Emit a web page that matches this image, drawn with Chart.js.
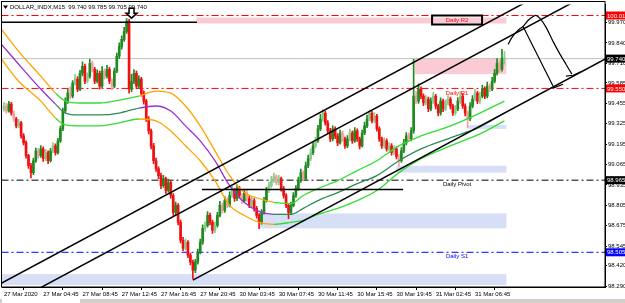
<!DOCTYPE html>
<html>
<head>
<meta charset="utf-8">
<script src="https://cdn.jsdelivr.net/npm/chart.js@4.4.1/dist/chart.umd.min.js"></script>
<style>
html, body { margin: 0; padding: 0; background: #fff; }
canvas { display: block; }
</style>
</head>
<body>
<canvas id="myChart" width="625" height="303"></canvas>
<script>
'use strict';

// ---- data ----
const symbolName = 'DOLLAR_INDX,M15';
const timeLabels = ['27 Mar 2020', '27 Mar 04:45', '27 Mar 08:45', '27 Mar 12:45', '27 Mar 16:45', '27 Mar 20:45',
  '30 Mar 03:45', '30 Mar 07:45', '30 Mar 11:45', '30 Mar 15:45', '30 Mar 19:45', '31 Mar 02:45', '31 Mar 06:45'];
const barsPerLabel = 16;
const priceTicks = [98.290, 98.420, 98.545, 98.675, 98.805, 98.935, 99.065, 99.195, 99.325, 99.455, 99.585, 99.710, 99.840, 99.970];

const opens = [99.420,99.438,99.406,99.450,99.393,99.355,99.311,99.330,99.247,99.203,
  99.121,99.057,99.013,99.089,99.152,99.121,99.165,99.102,99.140,99.089,
  99.152,99.184,99.140,99.216,99.292,99.406,99.469,99.520,99.501,99.584,
  99.609,99.546,99.647,99.691,99.596,99.628,99.710,99.672,99.596,99.647,
  99.565,99.660,99.628,99.672,99.596,99.565,99.660,99.755,99.818,99.863,
  99.913,99.977,99.546,99.596,99.647,99.565,99.609,99.520,99.469,99.355,
  99.279,99.184,99.089,99.038,98.994,98.930,98.975,98.899,98.949,98.867,
  98.759,98.804,98.696,98.582,98.531,98.569,98.487,98.442,98.391,98.442,
  98.506,98.569,98.658,98.677,98.740,98.696,98.645,98.677,98.740,98.804,
  98.772,98.835,98.804,98.867,98.899,98.848,98.911,98.867,98.835,98.886,
  98.848,98.804,98.835,98.785,98.740,98.696,98.759,98.835,98.899,98.930,
  98.962,98.988,98.949,98.975,98.911,98.867,98.804,98.759,98.804,98.867,
  98.911,98.962,99.013,98.975,99.057,99.102,99.140,99.184,99.216,99.292,
  99.355,99.393,99.330,99.279,99.228,99.292,99.247,99.203,99.266,99.228,
  99.184,99.228,99.266,99.216,99.279,99.228,99.184,99.266,99.311,99.355,
  99.393,99.343,99.374,99.292,99.228,99.184,99.216,99.165,99.184,99.140,
  99.165,99.114,99.089,99.152,99.203,99.247,99.228,99.279,99.501,99.469,
  99.546,99.501,99.457,99.482,99.419,99.469,99.501,99.438,99.393,99.469,
  99.419,99.457,99.482,99.438,99.393,99.419,99.469,99.501,99.438,99.393,
  99.355,99.438,99.482,99.520,99.469,99.501,99.546,99.501,99.565,99.546,
  99.596,99.647,99.710,99.672,99.740];
const highs = [99.460,99.455,99.468,99.462,99.405,99.366,99.352,99.340,99.262,99.215,
  99.130,99.072,99.105,99.170,99.168,99.185,99.178,99.160,99.152,99.168,
  99.205,99.196,99.232,99.310,99.425,99.490,99.545,99.560,99.600,99.640,
  99.625,99.665,99.720,99.705,99.650,99.735,99.722,99.685,99.668,99.660,
  99.690,99.675,99.698,99.685,99.612,99.680,99.775,99.840,99.885,99.940,
  99.996,99.990,99.640,99.670,99.660,99.630,99.620,99.535,99.480,99.370,
  99.290,99.200,99.105,99.050,99.010,98.995,98.985,98.972,98.960,98.880,
  98.825,98.815,98.710,98.600,98.590,98.580,98.500,98.455,98.460,98.525,
  98.590,98.680,98.700,98.765,98.755,98.710,98.700,98.760,98.830,98.820,
  98.860,98.850,98.890,98.925,98.915,98.935,98.925,98.880,98.905,98.900,
  98.862,98.855,98.848,98.798,98.752,98.778,98.855,98.920,98.955,98.990,
  99.010,99.000,98.995,98.985,98.925,98.880,98.815,98.825,98.885,98.930,
  98.985,99.035,99.025,99.080,99.125,99.165,99.205,99.240,99.315,99.385,
  99.415,99.405,99.345,99.295,99.312,99.305,99.262,99.285,99.280,99.240,
  99.250,99.290,99.278,99.300,99.292,99.240,99.285,99.335,99.380,99.412,
  99.405,99.395,99.385,99.305,99.240,99.235,99.228,99.205,99.198,99.185,
  99.178,99.130,99.172,99.225,99.268,99.265,99.300,99.735,99.530,99.580,
  99.560,99.515,99.505,99.495,99.490,99.525,99.512,99.450,99.490,99.482,
  99.478,99.505,99.495,99.450,99.440,99.492,99.530,99.515,99.452,99.405,
  99.460,99.505,99.545,99.532,99.525,99.570,99.560,99.590,99.580,99.620,
  99.672,99.740,99.725,99.800,99.785];
const lows = [99.405,99.392,99.398,99.380,99.340,99.298,99.300,99.232,99.190,99.105,
  99.040,98.980,99.000,99.078,99.105,99.110,99.085,99.090,99.070,99.080,
  99.140,99.125,99.130,99.205,99.280,99.395,99.455,99.485,99.490,99.570,
  99.530,99.535,99.630,99.580,99.585,99.615,99.655,99.580,99.585,99.545,
  99.555,99.610,99.615,99.580,99.540,99.555,99.650,99.740,99.800,99.850,
  99.900,99.520,99.530,99.580,99.548,99.550,99.500,99.450,99.340,99.260,
  99.165,99.070,99.020,98.975,98.910,98.918,98.880,98.888,98.850,98.740,
  98.745,98.680,98.565,98.515,98.520,98.470,98.425,98.335,98.375,98.430,
  98.495,98.555,98.640,98.665,98.680,98.625,98.630,98.665,98.730,98.755,
  98.760,98.790,98.795,98.855,98.830,98.835,98.850,98.815,98.825,98.830,
  98.790,98.792,98.768,98.722,98.655,98.685,98.748,98.825,98.885,98.918,
  98.950,98.935,98.935,98.895,98.850,98.790,98.720,98.745,98.795,98.855,
  98.900,98.950,98.960,98.965,99.045,99.090,99.128,99.170,99.205,99.280,
  99.340,99.315,99.262,99.210,99.215,99.230,99.185,99.195,99.212,99.168,
  99.172,99.215,99.200,99.205,99.212,99.165,99.175,99.255,99.300,99.345,
  99.330,99.330,99.278,99.212,99.168,99.170,99.150,99.152,99.125,99.128,
  99.100,99.055,99.078,99.140,99.190,99.212,99.215,99.265,99.452,99.455,
  99.485,99.440,99.445,99.402,99.408,99.455,99.420,99.375,99.380,99.402,
  99.408,99.445,99.420,99.378,99.380,99.408,99.455,99.422,99.375,99.300,
  99.345,99.425,99.470,99.452,99.455,99.490,99.485,99.490,99.530,99.535,
  99.585,99.635,99.655,99.660,99.705];
const closes = [99.438,99.406,99.450,99.393,99.355,99.311,99.330,99.247,99.203,99.121,
  99.057,99.013,99.089,99.152,99.121,99.165,99.102,99.140,99.089,99.152,
  99.184,99.140,99.216,99.292,99.406,99.469,99.520,99.501,99.584,99.609,
  99.546,99.647,99.691,99.596,99.628,99.710,99.672,99.596,99.647,99.565,
  99.660,99.628,99.672,99.596,99.565,99.660,99.755,99.818,99.863,99.913,
  99.977,99.546,99.596,99.647,99.565,99.609,99.520,99.469,99.355,99.279,
  99.184,99.089,99.038,98.994,98.930,98.975,98.899,98.949,98.867,98.759,
  98.804,98.696,98.582,98.531,98.569,98.487,98.442,98.391,98.442,98.506,
  98.569,98.658,98.677,98.740,98.696,98.645,98.677,98.740,98.804,98.772,
  98.835,98.804,98.867,98.899,98.848,98.911,98.867,98.835,98.886,98.848,
  98.804,98.835,98.785,98.740,98.696,98.759,98.835,98.899,98.930,98.962,
  98.988,98.949,98.975,98.911,98.867,98.804,98.759,98.804,98.867,98.911,
  98.962,99.013,98.975,99.057,99.102,99.140,99.184,99.216,99.292,99.355,
  99.393,99.330,99.279,99.228,99.292,99.247,99.203,99.266,99.228,99.184,
  99.228,99.266,99.216,99.279,99.228,99.184,99.266,99.311,99.355,99.393,
  99.343,99.374,99.292,99.228,99.184,99.216,99.165,99.184,99.140,99.165,
  99.114,99.089,99.152,99.203,99.247,99.228,99.279,99.501,99.469,99.546,
  99.501,99.457,99.482,99.419,99.469,99.501,99.438,99.393,99.469,99.419,
  99.457,99.482,99.438,99.393,99.419,99.469,99.501,99.438,99.393,99.355,
  99.438,99.482,99.520,99.469,99.501,99.546,99.501,99.565,99.546,99.596,
  99.647,99.710,99.672,99.740,99.740];

// moving-average band (upper / middle / lower), read at a few bars
const bandBars   = [-1, 6, 15, 21, 25, 31, 39, 47, 55, 62, 68, 74, 80, 86, 92, 98, 104, 110, 117, 122, 128, 136, 144, 152, 161, 170, 182, 194, 204];
const bandUpper  = [99.926,99.786,99.628,99.520,99.469,99.457,99.457,99.476,99.501,99.533,99.520,99.438,99.311,99.152,98.994,98.886,98.848,98.823,98.816,98.867,98.911,98.962,99.026,99.089,99.184,99.247,99.311,99.393,99.469];
const bandMiddle = [99.831,99.704,99.546,99.450,99.393,99.381,99.381,99.393,99.425,99.438,99.406,99.311,99.216,99.089,98.930,98.823,98.766,98.747,98.747,98.785,98.835,98.886,98.943,98.994,99.089,99.165,99.235,99.305,99.393];
const bandLower  = [99.736,99.596,99.469,99.362,99.317,99.311,99.311,99.330,99.355,99.343,99.279,99.184,99.089,98.962,98.804,98.740,98.696,98.683,98.696,98.709,98.747,98.785,98.835,98.899,99.013,99.102,99.184,99.260,99.343];
const bandTrend  = ['dn','dn','dn','dn','up','up','up','up','up','dn','dn','dn','dn','dn','dn','dn','dn','dn','up','up','up','up','up','up','up','up','up','up','up'];

// daily pivot levels
const pivotNames  = ['Daily R2', 'Daily R1', 'Daily Pivot', 'Daily S1'];
const pivotValues = [100.015, 99.550, 98.965, 98.505];
const pivotTextBar = 184.7;

// trend lines: [bar, price] -> [bar, price]
const trendFrom = [[-1, 98.308], [-1, 98.146], [77, 98.328], [-1, 99.972], [80.7, 98.905]];
const trendTo   = [[247, 100.387], [247, 100.225], [247, 99.753], [78.7, 99.972], [162.7, 98.905]];

// supply / demand zones
const zoneFrom = [78.5, 167.5, 189, 160, 104, -1];
const zoneTo   = [204.8, 204.8, 204.8, 204.8, 204.8, 204.8];
const zoneHigh = [100.002, 99.742, 99.317, 99.057, 98.753, 98.366];
const zoneLow  = [99.964, 99.641, 99.292, 99.013, 98.658, 98.296];
const zoneKind = ['supply', 'supply', 'demand', 'demand', 'demand', 'demand'];

// hand drawn projection
const sketchRight = [[205.5,99.831],[207.1,99.875],[208.7,99.907],[210.4,99.932],[211.6,99.945],[213.6,99.983],[215.7,100.008],[216.9,100.015],[218.5,99.996],[221,99.939],[223.8,99.850],[226.7,99.767],[229.1,99.704],[231.5,99.641]];
const sketchRightHead = [[229.1,99.628],[232,99.634],[235.6,99.660]];
const sketchLeft = [[211.6,99.945],[223.8,99.565]];
const sketchLeftHead = [[223.8,99.552],[227.9,99.577]];

const peakArrow = [52, 99.998];

// ---- styles ----
const last = closes.length - 1;
const pivotColors = ['#ff0000', '#ff0000', '#000000', '#0000ff'];
const candleColors = closes.map((c, i) => {
  const up = c >= opens[i];
  const big = Math.abs(c - opens[i]) >= 0.04;
  return up ? (big ? '#1f8a1f' : '#8cc98c') : (big ? '#f01010' : '#f5a0a0');
});

Chart.defaults.font.family = '"Liberation Sans", Arial, sans-serif';
Chart.defaults.font.size = 6;
Chart.defaults.color = '#000';

function pts(list) {
  return list.map(p => ({ x: p[0], y: p[1] }));
}
function lineSet(data, color, width, dash, order, tension) {
  return {
    type: 'line', data: data, borderColor: color, borderWidth: width, borderDash: dash || [],
    pointRadius: 0, fill: false, tension: tension || 0, order: order
  };
}

let datasets = [];

pivotValues.forEach((v, k) => {
  datasets.push(lineSet([{ x: -1, y: v }, { x: 246, y: v }], pivotColors[k], 1, [7, 3, 2, 3], 7));
});
datasets.push(lineSet([{ x: -1, y: closes[last] }, { x: 246, y: closes[last] }], '#c0c0c0', 1, null, 6));

datasets.push({
  type: 'bar', data: highs.map((h, i) => ({ x: i, y: [lows[i], h] })),
  backgroundColor: candleColors, barThickness: 1, grouped: false, order: 5
});
datasets.push({
  type: 'bar', data: opens.map((o, i) => ({ x: i, y: [o, closes[i]] })),
  backgroundColor: candleColors, barThickness: 2, grouped: false, minBarLength: 1, order: 4
});

[[bandUpper, '#33dd33', '#ffa500'], [bandMiddle, '#2e8b57', '#9932cc'], [bandLower, '#33dd33', '#ffa500']].forEach(b => {
  const ds = lineSet(bandBars.map((bar, k) => ({ x: bar, y: b[0][k] })), b[1], 1.3, null, 3, 0.4);
  ds.cubicInterpolationMode = 'monotone';
  ds.segment = { borderColor: c => bandTrend[c.p1DataIndex] === 'up' ? b[1] : b[2] };
  datasets.push(ds);
});

trendFrom.forEach((f, k) => {
  datasets.push(lineSet(pts([f, trendTo[k]]), '#000', 1.5, null, 2));
});

datasets.push(lineSet(pts(sketchRight), '#000', 1.2, null, 1, 0.3));
datasets.push(lineSet(pts(sketchRightHead), '#000', 1.2, null, 1));
datasets.push(lineSet(pts(sketchLeft), '#000', 1.2, null, 1));
datasets.push(lineSet(pts(sketchLeftHead), '#000', 1.2, null, 1));

const overlay = {
  id: 'overlay',
  beforeDatasetsDraw(chart) {
    const { ctx, chartArea: a, scales: { x, y } } = chart;
    ctx.save();
    ctx.beginPath();
    ctx.rect(a.left, a.top, a.right - a.left, a.bottom - a.top);
    ctx.clip();
    zoneFrom.forEach((f, k) => {
      const x0 = x.getPixelForValue(f), x1 = x.getPixelForValue(zoneTo[k]);
      const y0 = y.getPixelForValue(zoneHigh[k]), y1 = y.getPixelForValue(zoneLow[k]);
      ctx.fillStyle = zoneKind[k] === 'supply' ? '#fbcbd5' : '#d7dff6';
      ctx.fillRect(x0, y0, x1 - x0, y1 - y0);
    });
    ctx.restore();
  },
  afterDatasetsDraw(chart) {
    const { ctx, chartArea: a, scales: { x, y } } = chart;
    ctx.save();
    ctx.font = '6px "Liberation Sans", Arial, sans-serif';

    // pivot names
    pivotNames.forEach((name, k) => {
      const px = x.getPixelForValue(pivotTextBar);
      const py = y.getPixelForValue(pivotValues[k]);
      ctx.fillStyle = pivotColors[k];
      ctx.textAlign = 'center';
      ctx.textBaseline = 'top';
      if (k === 0) {
        ctx.strokeStyle = '#000';
        ctx.lineWidth = 2;
        ctx.strokeRect(px - 25, py, 50, 9);
        ctx.fillText(name, px, py + 2);
      } else {
        ctx.fillText(name, px, py + 1.5);
      }
    });

    // header
    ctx.fillStyle = '#000';
    ctx.textAlign = 'left';
    ctx.textBaseline = 'middle';
    const hdr = symbolName + '  ' + [opens[last], highs[last], lows[last], closes[last]].map(v => v.toFixed(3)).join(' ');
    ctx.fillText(hdr, 10, 7.5);
    ctx.beginPath();
    ctx.moveTo(3, 5.5); ctx.lineTo(8, 5.5); ctx.lineTo(5.5, 9);
    ctx.closePath();
    ctx.fill();

    // arrow above the top
    const ax = x.getPixelForValue(peakArrow[0]), ay = y.getPixelForValue(peakArrow[1]);
    ctx.beginPath();
    ctx.moveTo(ax, ay);
    ctx.lineTo(ax - 5.5, ay - 5);
    ctx.lineTo(ax - 2.5, ay - 5);
    ctx.lineTo(ax - 2.5, ay - 10);
    ctx.lineTo(ax + 2.5, ay - 10);
    ctx.lineTo(ax + 2.5, ay - 5);
    ctx.lineTo(ax + 5.5, ay - 5);
    ctx.closePath();
    ctx.fillStyle = '#fff';
    ctx.fill();
    ctx.strokeStyle = '#000';
    ctx.lineWidth = 1.5;
    ctx.stroke();
    ctx.restore();
  },
  afterDraw(chart) {
    const { ctx, chartArea: a, scales: { y } } = chart;
    ctx.save();
    ctx.font = '6px "Liberation Sans", Arial, sans-serif';
    ctx.textAlign = 'left';
    ctx.textBaseline = 'middle';
    const boxes = pivotValues.map((v, k) => [v, pivotColors[k]]);
    boxes.push([closes[last], '#000']);
    boxes.forEach(b => {
      const py = y.getPixelForValue(b[0]);
      ctx.fillStyle = b[1];
      ctx.fillRect(a.right + 1, py - 4, 20, 8);
      ctx.fillStyle = '#fff';
      ctx.fillText(b[0].toFixed(3), a.right + 2, py + 0.5);
    });
    // frame
    ctx.strokeStyle = '#000';
    ctx.lineWidth = 1;
    ctx.strokeRect(1.5, 1.5, a.right - 1.5, a.bottom - 1.5);
    // tab strip
    ctx.fillStyle = '#d4d0c8';
    ctx.fillRect(0, 299, 625, 4);
    ctx.fillStyle = '#fff';
    ctx.fillRect(2, 299, 78, 4);
    ctx.restore();
  }
};

new Chart(document.getElementById('myChart'), {
  type: 'bar',
  data: { datasets: datasets },
  plugins: [overlay],
  options: {
    responsive: false,
    animation: false,
    devicePixelRatio: 1,
    layout: { padding: { left: 2, top: 3, right: 0, bottom: 4 } },
    plugins: { legend: { display: false }, tooltip: { enabled: false } },
    scales: {
      x: {
        type: 'linear', min: -0.8, max: 245, offset: false,
        afterBuildTicks: s => { s.ticks = timeLabels.map((t, k) => ({ value: k * barsPerLabel })); },
        afterFit: s => { s.height = 12; },
        ticks: { autoSkip: false, maxRotation: 0, align: 'start', padding: 1, callback: (v, k) => timeLabels[k] },
        grid: { drawOnChartArea: false, tickLength: 3, color: '#000' },
        border: { color: '#000' }
      },
      y: {
        position: 'right', min: 98.2837, max: 100.0845,
        afterBuildTicks: s => { s.ticks = priceTicks.map(v => ({ value: v })); },
        afterFit: s => { s.width = 20; },
        ticks: { autoSkip: false, padding: 1, callback: v => v.toFixed(3) },
        grid: { drawOnChartArea: false, tickLength: 2, color: '#000' },
        border: { color: '#000' }
      }
    }
  }
});
</script>
</body>
</html>
